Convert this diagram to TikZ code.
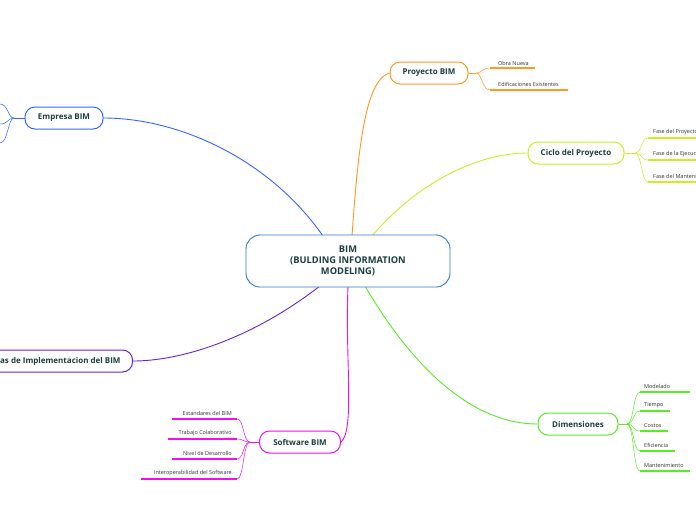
\documentclass[tikz,border=0pt]{standalone}
\usepackage{fontspec}
\setmainfont{Open Sans}
\begin{document}
\begin{tikzpicture}[x=1pt,y=-1pt,
  main/.style={draw=#1,line width=1pt,rounded corners=10pt,minimum height=22pt,inner xsep=10pt,font=\fontsize{8}{9}\selectfont\bfseries,text=tdark,fill=white},
  sub/.style={font=\fontsize{5.5}{6}\selectfont,text=black!80,inner sep=1pt},
  conn/.style={draw=#1,line width=0.9pt},
  thin/.style={draw=#1,line width=0.5pt},
  ul/.style={draw=#1,line width=1.2pt}]
\definecolor{tdark}{HTML}{1D3D3D}
\definecolor{cor}{HTML}{FF9922}
\definecolor{cbl}{HTML}{3366FF}
\definecolor{cyg}{HTML}{CCEE22}
\definecolor{cgr}{HTML}{55EE22}
\definecolor{cmg}{HTML}{EE11EE}
\definecolor{cpu}{HTML}{6622DD}
\definecolor{cce}{HTML}{3377CC}
\useasboundingbox (0,0) rectangle (696,520);
\fill[white] (0,0) rectangle (696,520);

\coordinate (cA) at (352,236);
\coordinate (cB) at (323,236);
\coordinate (cC) at (372,236);
\coordinate (cD) at (365,286);
\coordinate (cE) at (348,286);
\coordinate (cF) at (320,286);

\node[main=cor,minimum width=78pt] (pb) at (429,73) {Proyecto BIM};
\node[main=cbl,minimum width=78pt] (eb) at (64,118) {Empresa BIM};
\node[main=cyg,minimum width=96pt] (cp) at (576,153) {Ciclo del Proyecto};
\node[main=cgr,minimum width=80pt] (di) at (578,424) {Dimensiones};
\node[main=cmg,minimum width=81pt] (sb) at (300,442) {Software BIM};
\node[main=cpu,anchor=east,minimum width=150pt,inner xsep=12pt,align=right] (et) at (133,361) {Etapas de Implementacion del BIM};

\draw[conn=cor] (cA) .. controls (358,150) and (365,80) .. (pb.west);
\draw[conn=cbl] (cB) .. controls (270,160) and (180,118) .. (eb.east);
\draw[conn=cyg] (cC) .. controls (420,180) and (480,153) .. (cp.west);
\draw[conn=cgr] (cD) .. controls (420,380) and (480,424) .. (di.west);
\draw[conn=cmg] (cE) .. controls (345,360) and (355,430) .. (sb.east);
\draw[conn=cpu] (cF) .. controls (250,340) and (180,361) .. (et.east);

\node[draw=cce,line width=0.9pt,rounded corners=14pt,fill=white,minimum width=204pt,minimum height=52pt,align=center,font=\fontsize{9.3}{11}\selectfont\bfseries,text=tdark] (bim) at (348,261) {BIM\\(BULDING INFORMATION\\MODELING)};

\coordinate (pbj) at (476,73);
\node[sub,anchor=south west] (on) at (497,67) {Obra Nueva};
\node[sub,anchor=south west] (ee) at (497,88) {Edificaciones Existentes};
\draw[thin=cor] (pb.east) -- (pbj);
\draw[thin=cor] (pbj) .. controls (482,73) and (482,68) .. (490,68);
\draw[thin=cor] (pbj) .. controls (482,73) and (482,90) .. (490,90);
\draw[ul=cor] (490,68) -- (535,68);
\draw[ul=cor] (490,90) -- (568,90);

\coordinate (ebj) at (14,118);
\draw[thin=cbl] (eb.west) -- (ebj);
\draw[thin=cbl] (ebj) .. controls (8,118) and (8,104) .. (0,104);
\draw[thin=cbl] (ebj) .. controls (8,118) and (8,124) .. (0,124);
\draw[thin=cbl] (ebj) .. controls (8,118) and (8,143) .. (0,143);

\coordinate (cpj) at (635,153);
\draw[thin=cyg] (cp.east) -- (cpj);
\foreach \y/\t in {138/Fase del Proyecto,160/Fase de la Ejecucion,182/Fase del Mantenimiento}{
  \draw[thin=cyg] (cpj) .. controls (642,153) and (641,\y) .. (648,\y);
  \draw[ul=cyg] (648,\y) -- (700,\y);
  \node[sub,anchor=south west] at (652,\y-2) {\t};
}

\coordinate (dij) at (627,424);
\draw[thin=cgr] (di.east) -- (dij);
\foreach \y/\w/\t in {392/690/Modelado,411/670/Tiempo,431/668/Costos,451/675/Eficiencia,471/690/Mantenimiento}{
  \draw[thin=cgr] (dij) .. controls (634,424) and (633,\y) .. (640,\y);
  \draw[ul=cgr] (640,\y) -- (\w,\y);
  \node[sub,anchor=south west] at (643,\y-2) {\t};
}

\coordinate (sbj) at (250,442);
\draw[thin=cmg] (sb.west) -- (sbj);
\foreach \y/\x/\t in {419/172/Estandares del BIM,439/168/Trabajo Colaborativo,459/172/Nivel de Desarrollo,479/141/Interoperabilidad del Software}{
  \draw[thin=cmg] (sbj) .. controls (243,442) and (244,\y) .. (237,\y);
  \draw[ul=cmg] (\x,\y) -- (237,\y);
  \node[sub,anchor=south east] at (233,\y-2) {\t};
}
\end{tikzpicture}
\end{document}
